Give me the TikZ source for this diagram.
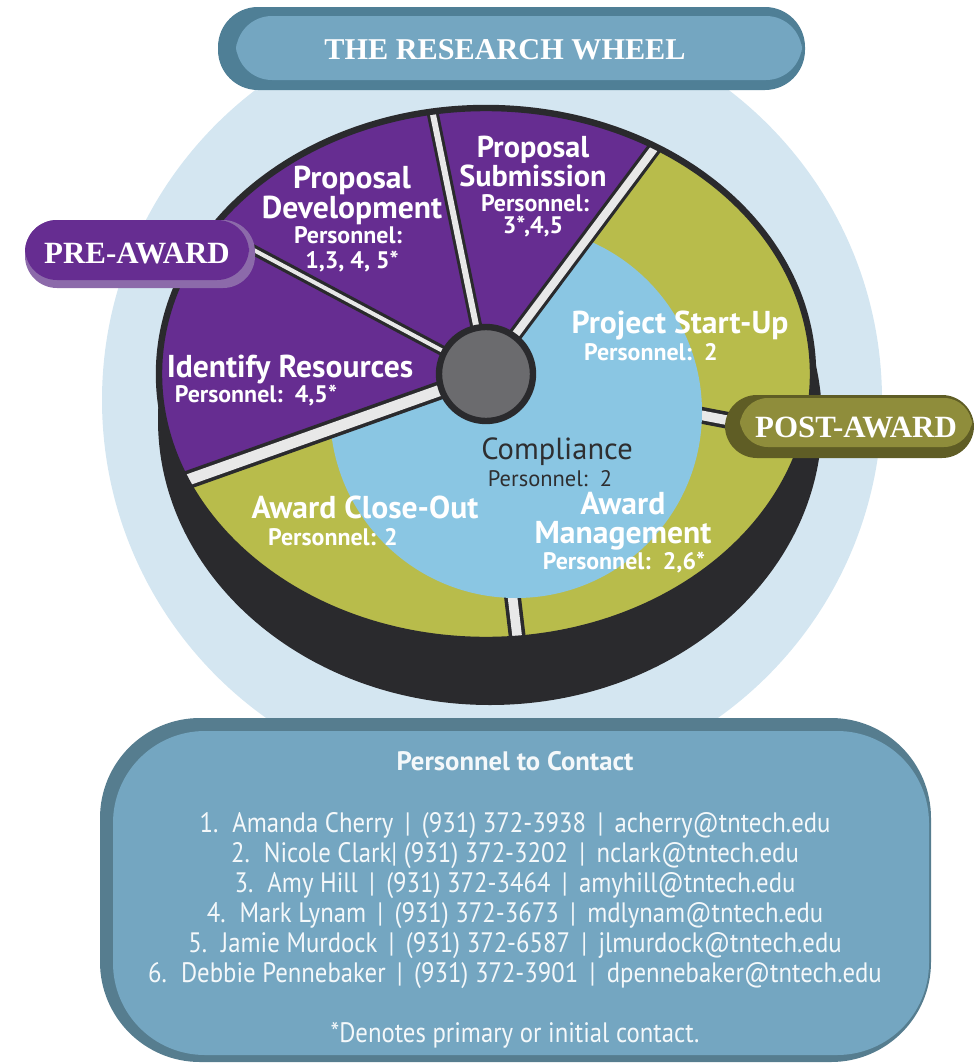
\documentclass[tikz,border=0pt]{standalone}
\usepackage{fontspec}
\setmainfont{Liberation Serif}
\setsansfont{PT Sans}
\newfontfamily\listfont{PT Sans}[FakeStretch=0.88]
\usetikzlibrary{positioning}

\definecolor{halo}{HTML}{D4E6F1}
\definecolor{rim}{HTML}{2A2A2D}
\definecolor{wheelpurple}{HTML}{662D91}
\definecolor{wheelolive}{HTML}{B8BC4B}
\definecolor{wheelblue}{HTML}{8AC6E3}
\definecolor{hubgray}{HTML}{6B6B6E}
\definecolor{sepwhite}{HTML}{E8E8E8}
\definecolor{steel}{HTML}{74A6C1}
\definecolor{steeldark}{HTML}{4F7F96}
\definecolor{boxedge}{HTML}{567D8F}
\definecolor{lavender}{HTML}{8C6AAA}
\definecolor{pillolive}{HTML}{8F8D3B}
\definecolor{olivedark}{HTML}{5F5D25}
\definecolor{inktext}{HTML}{2E2E30}

\tikzset{
seghead/.style={anchor=base, inner sep=0pt, align=center, text=white, font={\sffamily\bfseries\fontsize{22.5}{21}\selectfont}}, % names of the steps, base = last line
segsub/.style={anchor=base, inner sep=0pt, text=white, font={\sffamily\bfseries\fontsize{17}{18}\selectfont}}, % personnel under a step
pilltext/.style={anchor=base, inner sep=0pt, text=white, font={\bfseries\fontsize{22}{26}\selectfont}}, % serif banner words
contactline/.style={anchor=base, inner sep=0pt, text=white!92!steel, font={\listfont\fontsize{20}{22}\selectfont}},
}

\begin{document}
\begin{tikzpicture}[x=0.25mm, y=-0.25mm]
\useasboundingbox (0,0) rectangle (974,1064);

% halo and wheel body
\fill[halo] (492,400) circle [radius=390];
\fill[rim] (490,420) ellipse [x radius=332, y radius=285];

\coordinate (hubc) at (486,374);
\coordinate (s1) at (190,216);
\coordinate (s2) at (430,100);
\coordinate (s3) at (668,130);
\coordinate (s4) at (820,438);
\coordinate (s5) at (520,660);
\coordinate (s6) at (165,488);

\begin{scope}
\clip (hubc) ellipse [x radius=327, y radius=266];
\fill[wheelolive] (hubc) ellipse [x radius=327, y radius=266];
\foreach \s in {s4,s5} {
  \draw[line width=4.2mm, rim] (hubc) -- (\s);
  \draw[line width=2.4mm, sepwhite] (hubc) -- (\s);
}
\fill[wheelblue] (516,412) circle [radius=186];
\fill[wheelpurple] (hubc) -- (-156,602) -- (-106,58) -- (374,-174) -- (850,-114) -- cycle;
\foreach \s/\b/\w in {s1/2.6/1.0, s2/3.0/1.5, s3/3.6/2.0, s6/4.6/2.8} {
  \draw[line width=\b mm, rim] (hubc) -- (\s);
  \draw[line width=\w mm, sepwhite] (hubc) -- (\s);
}
\end{scope}
\draw[rim, line width=1.6mm] (hubc) ellipse [x radius=327, y radius=266];
\filldraw[fill=hubgray, draw=rim, line width=1.6mm] (hubc) circle [radius=47];

% steps
\node[seghead] (idres) at (290,377) {Identify Resources};
\node[segsub] (idrespers) at (256,402) {Personnel:\ \ 4,5*};

\node[seghead] (propdev) at (352,218) {Proposal\\Development};
\node[segsub] (propdevpers1) at (348,243) {Personnel:};
\node[segsub] (propdevpers2) at (352,268) {1,3, 4, 5*};

\node[seghead, font={\sffamily\bfseries\fontsize{21.5}{20}\selectfont}] (propsub) at (533,186) {Proposal\\Submission};
\node[segsub] (propsubpers1) at (535,211) {Personnel:};
\node[segsub] (propsubpers2) at (533,233) {3*,4,5};

\node[seghead] (startup) at (680,333) {Project Start-Up};
\node[segsub] (startuppers) at (651,360) {Personnel:\ \ 2};

\node[anchor=base, inner sep=0pt, text=inktext, font={\sffamily\fontsize{21.7}{24}\selectfont}] (compliance) at (557,459) {Compliance};
\node[anchor=base, inner sep=0pt, text=inktext, font={\sffamily\fontsize{16}{18}\selectfont}] (compliancepers) at (550,486) {Personnel:\ \ 2};

\node[seghead, font={\sffamily\bfseries\fontsize{22.5}{20.5}\selectfont}] (awardmgmt) at (623,543) {Award\\Management};
\node[segsub] (awardmgmtpers) at (624,569) {Personnel:\ \ 2,6*};

\node[seghead] (closeout) at (365,518) {Award Close-Out};
\node[segsub] (closeoutpers) at (333,545) {Personnel: 2};

% phase tags
\fill[lavender, rounded corners=8mm] (25,220) rectangle (255,288);
\fill[wheelpurple, rounded corners=8mm] (25,220) rectangle (249,280);
\node[pilltext] (preaward) at (137,263) {PRE-AWARD};

\fill[olivedark, rounded corners=8mm] (725,395) rectangle (974,458);
\fill[pillolive, rounded corners=7mm] (740,398) rectangle (972,447);
\node[pilltext] (postaward) at (856,437) {POST-AWARD};

% title banner
\fill[steeldark, rounded corners=10mm] (218,7) rectangle (805,90);
\fill[steel, rounded corners=9mm] (236,16) rectangle (802,80);
\node[pilltext, font={\bfseries\fontsize{21.5}{26}\selectfont}] (title) at (505,59) {THE RESEARCH WHEEL};

% contact box
\fill[boxedge, rounded corners=25mm] (100,718) rectangle (931,1062);
\fill[steel, rounded corners=23mm] (113,731) rectangle (929,1055);
\node[contactline, font={\sffamily\bfseries\fontsize{19}{22}\selectfont}] (contacthead) at (515,770) {Personnel to Contact};
\foreach \entry [count=\i] in {
  {1.\enspace Amanda Cherry \,|\, (931) 372-3938 \,|\, acherry@tntech.edu},
  {2.\enspace Nicole Clark| (931) 372-3202 \,|\, nclark@tntech.edu},
  {3.\enspace Amy Hill \,|\, (931) 372-3464 \,|\, amyhill@tntech.edu},
  {4.\enspace Mark Lynam \,|\, (931) 372-3673 \,|\, mdlynam@tntech.edu},
  {5.\enspace Jamie Murdock \,|\, (931) 372-6587 \,|\, jlmurdock@tntech.edu},
  {6.\enspace Debbie Pennebaker \,|\, (931) 372-3901 \,|\, dpennebaker@tntech.edu}} {
  \node[contactline] (contact\i) at (515,{802+30*\i}) {\entry};
}
\node[contactline] (footnote) at (515,1042) {*Denotes primary or initial contact.};
\end{tikzpicture}
\end{document}
